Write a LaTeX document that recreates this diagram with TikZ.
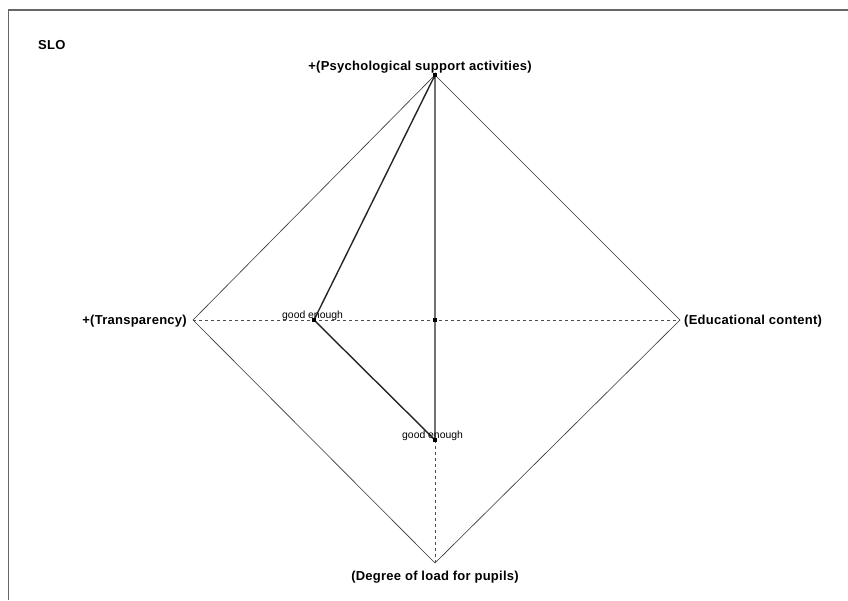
\documentclass[tikz,border=0pt]{standalone}
\usepackage{fontspec}
\setmainfont{Liberation Sans}
\begin{document}
\begin{tikzpicture}[x=1pt,y=-1pt,
  axis/.style={draw=black!80,line width=0.6pt},
  grid/.style={draw=black!70,line width=0.5pt,dash pattern=on 3pt off 3pt},
  poly/.style={draw=black!85,line width=1.4pt},
  mk/.style={fill=black,minimum size=4.5pt,inner sep=0pt,draw=none,rectangle},
  lab/.style={font=\bfseries\fontsize{13}{15}\selectfont\addfontfeature{LetterSpace=2},inner sep=0pt},
  small/.style={font=\fontsize{10.4}{12}\selectfont,inner sep=0pt}]
\useasboundingbox (0,0) rectangle (848,600);
\fill[white] (0,0) rectangle (848,600);
\draw[black!60,line width=1.2pt] (8.5,600) -- (8.5,10) -- (848,10);
\coordinate (T) at (435,75);
\coordinate (L) at (193,320);
\coordinate (R) at (680,320);
\coordinate (B) at (435,563);
\coordinate (C) at (435,320);
\coordinate (G1) at (314,320);
\coordinate (G2) at (435,440);
\draw[axis] (T) -- (R) -- (B) -- (L) -- cycle;
\draw[grid] (L) -- (R);
\draw[grid] (G2) -- (B);
\draw[poly] (T) -- (G1) -- (G2) -- cycle;
\node[mk] at (T) {};
\node[mk] at (G1) {};
\node[mk] at (C) {};
\node[mk] at (G2) {};
\node[lab,anchor=west] (slo) at (38,45) {SLO};
\node[lab,anchor=base] (lt) at (420,70) {+(Psychological support activities)};
\node[lab,anchor=east] (ll) at (187,321) {+(Transparency)};
\node[lab,anchor=west] (lr) at (684,321) {(Educational content)};
\node[lab,anchor=north] (lb) at (435,571) {(Degree of load for pupils)};
\node[small,anchor=base west] (g1) at (282,318) {good enough};
\node[small,anchor=base west] (g2) at (402,438) {good enough};
\end{tikzpicture}
\end{document}
